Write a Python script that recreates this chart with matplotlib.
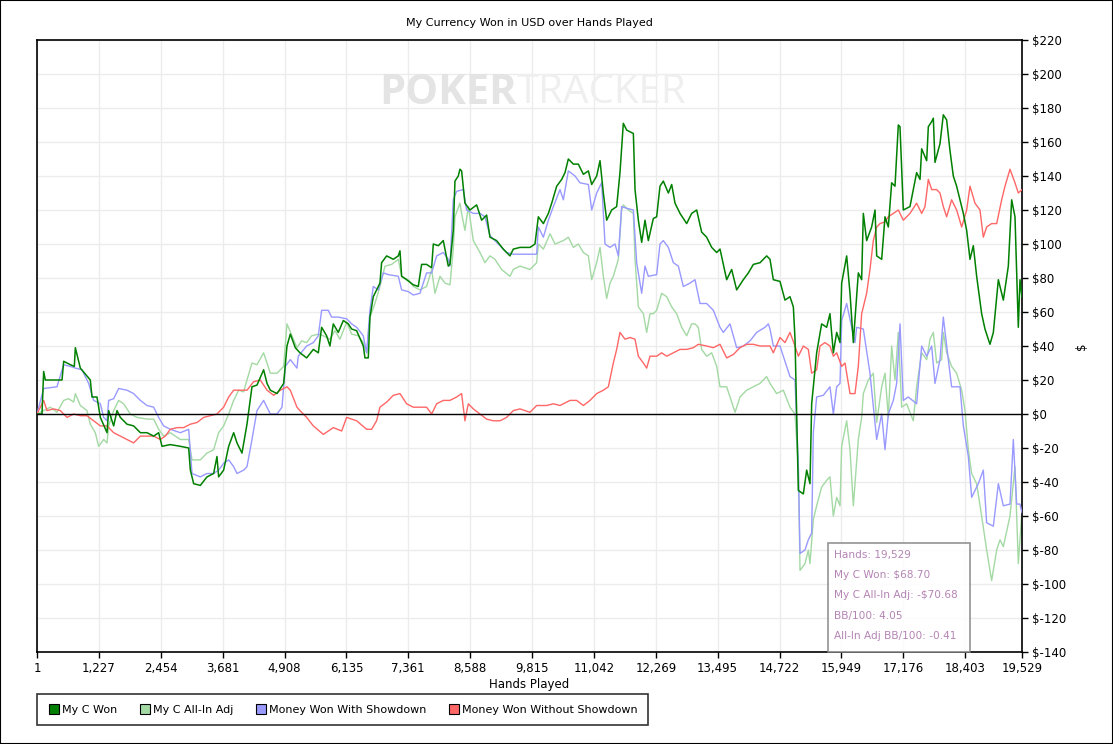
import matplotlib
matplotlib.use("Agg")
import matplotlib.pyplot as plt
from matplotlib.patches import Rectangle
from matplotlib.lines import Line2D

# ---- data (hands, dollars) ----
won_hands = [1, 100, 133, 166, 497, 530, 662, 741, 761, 860, 1058, 1091, 1190, 1257, 1389, 1422, 1521, 1587,
             1653, 1785, 1917, 2050, 2182, 2314, 2413, 2479, 2644, 2842, 3008, 3041, 3107, 3239, 3371, 3503,
             3569, 3602, 3701, 3801, 3900, 3966, 4065, 4164, 4263, 4362, 4494, 4561, 4627, 4759, 4891, 4957,
             5023, 5122, 5214, 5347, 5479, 5578, 5644, 5743, 5809, 5875, 5974, 6074, 6173, 6239, 6338, 6470,
             6503, 6569, 6602, 6668, 6734, 6800, 6833, 6933, 7065, 7164, 7197, 7230, 7329, 7461, 7560, 7626,
             7725, 7825, 7858, 7957, 8056, 8155, 8188, 8254, 8287, 8353, 8386, 8419, 8485, 8585, 8717, 8816,
             8915, 8981, 9113, 9245, 9378, 9444, 9577, 9775, 9874, 9940, 10040, 10139, 10205, 10304, 10403,
             10469, 10535, 10634, 10733, 10833, 10932, 10998, 11097, 11163, 11229, 11295, 11394, 11493, 11559,
             11625, 11692, 11824, 11857, 11923, 11989, 12055, 12121, 12220, 12286, 12352, 12418, 12518, 12584,
             12650, 12749, 12881, 12980, 13079, 13178, 13277, 13377, 13476, 13542, 13674, 13773, 13872, 14004,
             14104, 14203, 14335, 14467, 14533, 14599, 14731, 14830, 14929, 14996, 15029, 15095, 15194, 15260,
             15326, 15359, 15458, 15557, 15656, 15722, 15789, 15855, 15921, 15954, 16053, 16119, 16185, 16284,
             16350, 16383, 16449, 16548, 16615, 16648, 16747, 16813, 16879, 16945, 17011, 17077, 17110, 17176,
             17308, 17440, 17507, 17540, 17639, 17672, 17738, 17771, 17804, 17903, 17969, 18035, 18101, 18167,
             18233, 18300, 18366, 18432, 18498, 18564, 18630, 18729, 18795, 18894, 18961, 19060, 19159, 19258,
             19324, 19390, 19456, 19489, 19529]
won_vals = [0, 0, 25, 20, 20, 31, 29, 28, 39, 27, 20, 10, 10, -2, -11, 2, -7, 2,
            -2, -6, -7, -11, -11, -13, -11, -19, -18, -19, -20, -33, -41, -42, -37, -35,
            -25, -37, -33, -19, -11, -17, -23, -6, 16, 17, 26, 18, 14, 12, 18, 40,
            47, 39, 36, 33, 38, 36, 51, 46, 40, 53, 48, 55, 53, 50, 49, 40,
            33, 33, 57, 69, 73, 77, 89, 93, 91, 93, 96, 81, 79, 76, 75, 88,
            88, 86, 100, 99, 102, 87, 88, 108, 137, 140, 144, 143, 124, 120, 123, 114,
            117, 104, 102, 97, 93, 97, 98, 98, 100, 116, 112, 118, 124, 134, 138,
            142, 150, 147, 147, 141, 143, 135, 140, 149, 130, 114, 120, 122, 142,
            171, 167, 165, 132, 114, 101, 114, 102, 115, 116, 134, 137, 130, 135,
            124, 118, 112, 118, 120, 107, 104, 98, 95, 97, 79, 85, 73, 79,
            83, 88, 89, 93, 91, 79, 78, 67, 69, 63, 44, -45, -47, -33,
            -41, 6, 36, 53, 51, 59, 36, 48, 42, 77, 93, 71, 42, 83,
            79, 118, 102, 110, 120, 93, 91, 116, 110, 136, 134, 170, 169, 120,
            122, 142, 138, 156, 149, 169, 172, 174, 148, 159, 176, 173, 155, 140,
            134, 126, 118, 108, 91, 99, 81, 59, 50, 41, 48, 79, 67, 87,
            126, 116, 51, 79, 68.7]

adj_hands = [1, 133, 265, 397, 530, 629, 728, 761, 860, 992, 1058, 1157, 1223, 1323, 1389, 1422, 1521, 1620,
             1719, 1851, 1983, 2182, 2314, 2413, 2512, 2644, 2842, 3008, 3074, 3239, 3371, 3503, 3602, 3701,
             3801, 3900, 4000, 4098, 4164, 4263, 4362, 4494, 4627, 4759, 4891, 4957, 5056, 5155, 5248, 5347,
             5446, 5578, 5677, 5809, 5908, 6007, 6140, 6239, 6371, 6470, 6536, 6602, 6701, 6800, 6900, 7032,
             7164, 7230, 7362, 7461, 7593, 7725, 7825, 7891, 7990, 8089, 8188, 8254, 8287, 8386, 8419, 8485,
             8552, 8651, 8783, 8882, 8981, 9080, 9212, 9378, 9444, 9576, 9775, 9907, 9940, 10040, 10172,
             10271, 10436, 10535, 10634, 10733, 10833, 10932, 10998, 11097, 11163, 11229, 11295, 11361, 11427,
             11526, 11592, 11625, 11725, 11824, 11857, 11923, 12022, 12088, 12154, 12220, 12286, 12385, 12485,
             12584, 12683, 12782, 12881, 12980, 13046, 13112, 13178, 13277, 13377, 13476, 13542, 13674, 13840,
             13938, 14071, 14203, 14335, 14467, 14533, 14665, 14797, 14929, 15029, 15095, 15128, 15227, 15293,
             15326, 15392, 15458, 15557, 15656, 15722, 15789, 15855, 15921, 15954, 16053, 16119, 16185, 16284,
             16350, 16383, 16482, 16581, 16648, 16747, 16813, 16879, 16945, 17011, 17077, 17143, 17242, 17374,
             17440, 17540, 17639, 17705, 17771, 17837, 17936, 17969, 18035, 18134, 18233, 18333, 18399, 18465,
             18531, 18630, 18729, 18828, 18927, 19027, 19093, 19159, 19291, 19390, 19456, 19522, 19529]
adj_vals = [0, 2, 4, 1, 8, 9, 7, 12, 5, 2, -6, -11, -19, -15, -17, -7, 2, 8,
            6, 0, -2, -3, -3, -9, -13, -11, -15, -15, -27, -27, -23, -21, -11, -7,
            0, 8, 14, 13, 20, 30, 29, 36, 24, 24, 28, 53, 46, 39, 43, 42,
            46, 47, 46, 44, 49, 44, 54, 47, 46, 42, 36, 57, 65, 75, 87, 88,
            91, 81, 79, 75, 73, 75, 85, 71, 81, 77, 76, 97, 116, 124, 118, 108,
            122, 102, 95, 89, 93, 91, 85, 81, 85, 87, 85, 89, 100, 97, 106,
            100, 102, 104, 98, 100, 95, 93, 79, 89, 98, 81, 68, 77, 81,
            91, 120, 123, 120, 118, 91, 63, 59, 48, 59, 59, 61, 71, 69,
            63, 59, 51, 46, 53, 53, 51, 38, 34, 36, 28, 16, 16, 1,
            10, 14, 16, 18, 22, 18, 12, 14, 4, 0, -31, -92, -88, -80,
            -88, -62, -54, -43, -39, -37, -60, -49, -54, -19, -4, -21, -54, -15,
            -2, 12, 20, 24, -5, 16, 24, -2, 40, 20, 48, 4, 6, -4,
            16, 36, 32, 44, 48, 30, 32, 48, 36, 28, 24, 14, 2, -21,
            -35, -41, -60, -80, -98, -80, -74, -78, -60, -31, -88, -60, -70.68]

sd_hands = [1, 133, 397, 530, 662, 761, 893, 1025, 1124, 1257, 1323, 1389, 1422, 1521, 1620, 1785, 1917,
            2050, 2182, 2314, 2413, 2512, 2644, 2842, 3008, 3074, 3239, 3371, 3503, 3602, 3701, 3801, 3900,
            3966, 4098, 4164, 4263, 4362, 4494, 4627, 4759, 4858, 4924, 5023, 5155, 5181, 5347, 5479, 5578,
            5644, 5776, 5842, 5974, 6140, 6239, 6338, 6470, 6536, 6602, 6668, 6767, 6866, 6966, 7164, 7230,
            7362, 7461, 7593, 7725, 7825, 7924, 8056, 8155, 8188, 8254, 8320, 8452, 8518, 8651, 8783, 8882,
            8981, 9179, 9311, 9444, 9577, 9907, 9940, 10040, 10139, 10238, 10370, 10436, 10535, 10667, 10766,
            10932, 10998, 11097, 11196, 11262, 11361, 11460, 11526, 11592, 11692, 11824, 11890, 11989, 12055,
            12121, 12286, 12352, 12418, 12518, 12617, 12716, 12815, 12947, 13046, 13145, 13277, 13410, 13542,
            13608, 13740, 13872, 14004, 14137, 14269, 14434, 14500, 14533, 14599, 14731, 14797, 14929, 15029,
            15095, 15128, 15227, 15293, 15359, 15392, 15458, 15590, 15722, 15789, 15855, 15921, 15954, 16053,
            16152, 16218, 16251, 16383, 16515, 16648, 16747, 16813, 16879, 16978, 17044, 17110, 17176, 17275,
            17440, 17540, 17639, 17738, 17804, 17903, 17969, 18068, 18134, 18300, 18366, 18465, 18531, 18663,
            18762, 18828, 18961, 19060, 19159, 19291, 19357, 19423, 19489, 19529]
sd_vals = [0, 15, 16, 29, 28, 27, 26, 18, 8, 6, -2, -4, 8, 9, 15, 14, 12,
           8, 5, 4, -2, -7, -9, -11, -9, -35, -37, -35, -35, -33, -29, -27, -31,
           -35, -33, -31, -15, 2, 8, 0, 0, 4, 28, 32, 27, 34, 40, 42, 46,
           61, 61, 57, 57, 56, 53, 51, 46, 36, 61, 75, 73, 83, 82, 81, 73,
           72, 70, 71, 83, 83, 93, 95, 91, 87, 126, 131, 132, 120, 118, 118, 116,
           105, 99, 95, 94, 94, 94, 110, 104, 114, 122, 132, 126, 143, 140, 136,
           135, 120, 130, 136, 100, 98, 100, 93, 122, 121, 120, 89, 71, 87,
           81, 82, 100, 102, 98, 89, 87, 75, 77, 79, 65, 65, 61, 51,
           48, 53, 39, 40, 43, 48, 51, 53, 50, 40, 40, 34, 22, 20,
           -31, -82, -80, -74, -70, -11, 10, 11, 16, 0, 16, 18, 55, 65,
           51, 42, 51, 50, 24, -15, 0, -21, 0, 8, 18, 53, 8, 10,
           6, 40, 34, 40, 18, 32, 57, 32, 16, 16, -7, -25, -49, -41,
           -33, -64, -66, -41, -54, -53, -15, -53, -53, -58]

nsd_hands = [1, 133, 199, 331, 464, 596, 728, 860, 992, 1124, 1257, 1389, 1521, 1653, 1785, 1917, 2050, 2182,
             2314, 2446, 2545, 2644, 2776, 2908, 3041, 3173, 3305, 3437, 3569, 3701, 3801, 3900, 4032, 4164,
             4296, 4428, 4561, 4693, 4825, 4957, 5023, 5155, 5214, 5347, 5479, 5677, 5875, 6041, 6140, 6338,
             6536, 6635, 6734, 6800, 6933, 7065, 7197, 7329, 7461, 7593, 7725, 7825, 7924, 8056, 8188, 8320,
             8419, 8485, 8552, 8651, 8783, 8915, 9047, 9179, 9311, 9444, 9576, 9775, 9907, 10106, 10238, 10370,
             10568, 10700, 10833, 10965, 11097, 11229, 11328, 11427, 11493, 11559, 11658, 11758, 11857, 11923,
             12022, 12088, 12154, 12286, 12385, 12485, 12617, 12749, 12881, 13013, 13112, 13277, 13410, 13542,
             13674, 13806, 13938, 14071, 14203, 14335, 14467, 14533, 14599, 14731, 14830, 14929, 15029, 15095,
             15194, 15293, 15359, 15458, 15524, 15623, 15722, 15789, 15855, 15954, 16020, 16119, 16218, 16284,
             16350, 16449, 16515, 16581, 16648, 16714, 16813, 16879, 16978, 17077, 17176, 17308, 17440, 17540,
             17606, 17672, 17738, 17837, 17903, 17969, 18035, 18134, 18233, 18333, 18432, 18498, 18597, 18696,
             18762, 18828, 18927, 19027, 19126, 19192, 19291, 19390, 19456, 19529]
nsd_vals = [0, 8, 2, 3, 2, -2, 0, -1, -1, -4, -7, -7, -11, -13, -15, -17, -13, -13,
            -13, -15, -13, -9, -8, -8, -6, -5, -2, -1, 0, 4, 10, 14, 14, 14,
            19, 20, 14, 11, 14, 16, 14, 4, 2, -2, -7, -12, -8, -10, -2, -4,
            -9, -9, -4, 4, 7, 11, 12, 6, 4, 4, 4, 0, 6, 8, 8, 10,
            12, -4, 6, 3, 0, -3, -4, -4, -2, 2, 3, 1, 5, 5, 6, 5,
            8, 8, 5, 8, 12, 14, 16, 30, 38, 48, 44, 45, 44, 34,
            30, 27, 34, 34, 36, 34, 36, 38, 38, 39, 41, 40, 39, 41,
            33, 35, 39, 41, 41, 40, 40, 40, 36, 45, 42, 48, 40, 34,
            40, 38, 24, 26, 40, 42, 40, 34, 36, 28, 30, 12, 12, 28,
            59, 71, 85, 102, 110, 112, 113, 116, 118, 120, 114, 118, 124, 118,
            122, 138, 132, 132, 130, 122, 116, 126, 120, 110, 120, 134, 124, 120,
            104, 110, 112, 112, 126, 134, 144, 136, 130, 132]

x_ticks = [1, 1227, 2454, 3681, 4908, 6135, 7361, 8588, 9815, 11042, 12269, 13495,
           14722, 15949, 17176, 18403, 19529]
y_ticks = list(range(-140, 221, 20))

series_names = ['My C Won', 'My C All-In Adj', 'Money Won With Showdown', 'Money Won Without Showdown']
series_colors = ['#008000', '#a3d9a3', '#9999ff', '#ff6666']

tip_lines = ['Hands: 19,529', 'My C Won: $68.70', 'My C All-In Adj: -$70.68',
             'BB/100: 4.05', 'All-In Adj BB/100: -0.41']

plt.rcParams['font.family'] = 'DejaVu Sans'
plt.rcParams['font.size'] = 8

W, H = 1113, 744
fig = plt.figure(figsize=(W / 100, H / 100), dpi=100)
fig.patch.set_facecolor('white')
fig.patches.append(Rectangle((0, 0), 1, 1, transform=fig.transFigure, fill=False,
                             edgecolor='black', linewidth=1.5))

ax = fig.add_axes([37 / W, 1 - 652 / H, (1022 - 37) / W, (652 - 40) / H])

# watermark
fig.text(517 / W, 1 - 93 / H, 'POKER', ha='right', va='center', fontsize=30,
         fontweight='bold', color='#e4e4e4', family='Open Sans', zorder=0)
fig.text(517 / W, 1 - 93 / H, 'TRACKER', ha='left', va='center', fontsize=29,
         color='#efefef', family='Open Sans', zorder=0)

ax.set_facecolor('none')
ax.grid(True, color='#ececec', linewidth=1.0)
ax.set_axisbelow(True)

ax.plot(adj_hands, adj_vals, color=series_colors[1], lw=1.0, zorder=2)
ax.plot(sd_hands, sd_vals, color=series_colors[2], lw=1.0, zorder=3)
ax.plot(nsd_hands, nsd_vals, color=series_colors[3], lw=1.0, zorder=4)
ax.plot(won_hands, won_vals, color=series_colors[0], lw=1.1, zorder=5)
ax.axhline(0, color='black', lw=1.0, zorder=6)

ax.set_xlim(1, 19529)
ax.set_ylim(-140, 220)
ax.set_xticks(x_ticks)
ax.set_xticklabels([f'{t:,}' for t in x_ticks])
ax.set_yticks(y_ticks)
ax.set_yticklabels([f'${t}' for t in y_ticks])
ax.yaxis.tick_right()
ax.yaxis.set_label_position('right')
ax.tick_params(axis='both', direction='out', length=4, width=1, colors='black', labelsize=8.5)
for s in ax.spines.values():
    s.set_linewidth(1.2)

ax.set_xlabel('Hands Played', fontsize=8.5, labelpad=2)
ax.set_ylabel('$', fontsize=8.5, labelpad=6)
ax.set_title('My Currency Won in USD over Hands Played', fontsize=8, pad=10)

# hover box
bx0, bx1, by0, by1 = 828, 970, 543, 652
fig.patches.append(Rectangle((bx0 / W, 1 - by1 / H), (bx1 - bx0) / W, (by1 - by0) / H,
                             transform=fig.transFigure, facecolor='white', alpha=0.85,
                             edgecolor='#808080', linewidth=1.2, zorder=10))
for i, line in enumerate(tip_lines):
    fig.text(834 / W, 1 - (555 + i * 20.2) / H, line, ha='left', va='center',
             fontsize=7.6, color='#b484b4', zorder=11)

handles = [Line2D([], [], marker='s', linestyle='none', markersize=7,
                  markerfacecolor=c, markeredgecolor='black', markeredgewidth=0.8)
           for c in series_colors]
leg = fig.legend(handles, series_names, loc='upper left', bbox_to_anchor=(37 / W, 1 - 694 / H),
                 borderaxespad=0, ncol=4, frameon=True, fancybox=False, edgecolor='black',
                 fontsize=8, handletextpad=0.1, columnspacing=1.9, borderpad=0.95, handlelength=1.2)
leg.get_frame().set_linewidth(1.2)

fig.savefig('out.png', dpi=100)
